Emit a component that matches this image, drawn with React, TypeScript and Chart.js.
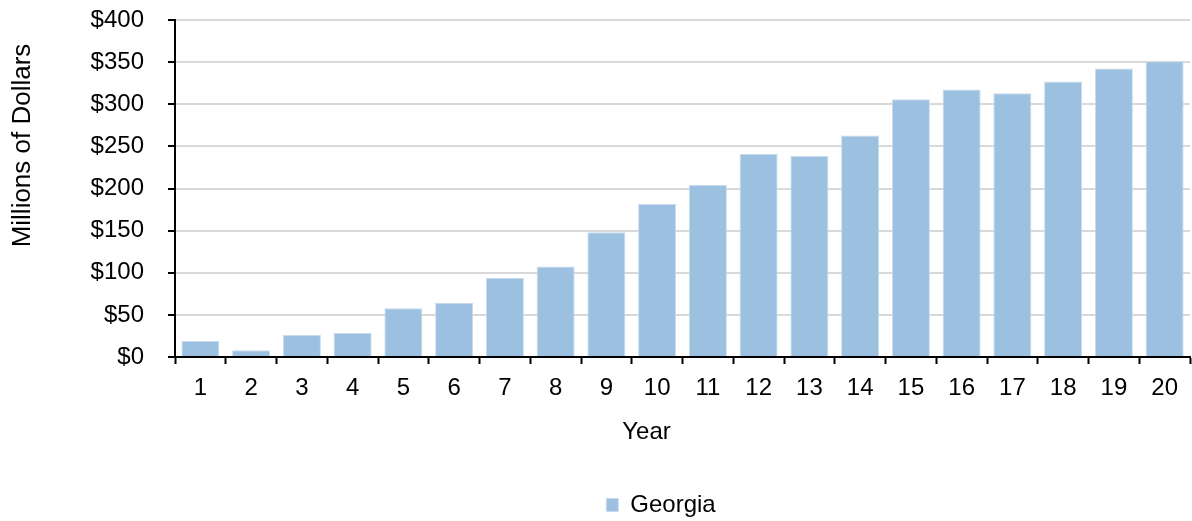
import React, { useEffect, useRef } from "react";
import { Chart, registerables } from "chart.js";

Chart.register(...registerables);

const years: string[] = ["1","2","3","4","5","6","7","8","9","10","11","12","13","14","15","16","17","18","19","20"];
const georgia: number[] = [19, 8, 26, 28.5, 58, 64.5, 94, 107.5, 148, 181.5, 204.5, 241, 238.5, 263, 306, 317.5, 313, 327, 342.5, 351];
const seriesName = "Georgia";
const yTitle = "Millions of Dollars";
const xTitle = "Year";

const FONT = "'Liberation Sans', Arial, Helvetica, sans-serif";
const FS = 24;

// Manual placement offsets of titles / legend (as in the source chart)
const X_TITLE_DX = -36;
const Y_TITLE_DY = -43;
const LEGEND_DX = 66;

const shiftPlugin = {
  id: "shiftTitles",
  afterLayout(chart: any) {
    const wrap = (obj: any, key: string, dx: number, dy: number) => {
      if (!obj || obj["__w_" + key]) return;
      const orig = obj[key];
      obj[key] = function (...args: any[]) {
        const c = chart.ctx;
        c.save();
        c.translate(dx, dy);
        const r = orig.apply(this, args);
        c.restore();
        return r;
      };
      obj["__w_" + key] = true;
    };
    wrap(chart.scales.x, "drawTitle", X_TITLE_DX, 0);
    wrap(chart.scales.y, "drawTitle", 0, Y_TITLE_DY);
    wrap(chart.legend, "draw", LEGEND_DX, 0);
  },
};

export default function App() {
  const ref = useRef<HTMLCanvasElement | null>(null);
  useEffect(() => {
    document.body.style.margin = "0";
    const canvas = ref.current!;
    const chart = new Chart(canvas, {
      type: "bar",
      data: {
        labels: years,
        datasets: [
          {
            label: seriesName,
            data: georgia,
            backgroundColor: "#9BC0E0",
            borderColor: "#C9DCEE",
            borderWidth: 1,
            barPercentage: 0.75,
            categoryPercentage: 1,
          },
        ],
      },
      plugins: [shiftPlugin],
      options: {
        responsive: false,
        animation: false,
        devicePixelRatio: 1,
        layout: { padding: { top: 20, right: 2, left: 0, bottom: -6 } },
        plugins: {
          tooltip: { enabled: false },
          legend: {
            position: "bottom",
            labels: {
              color: "#000",
              font: { family: FONT, size: FS },
              boxWidth: 12,
              boxHeight: 13,
              padding: 4,
            },
          },
        },
        scales: {
          x: {
            grid: {
              display: true,
              drawOnChartArea: false,
              drawTicks: true,
              tickLength: 7,
              tickColor: "#000",
              tickWidth: 2,
              offset: true,
            },
            border: { display: true, color: "#000", width: 2 },
            ticks: { color: "#000", font: { family: FONT, size: FS }, padding: 10, maxRotation: 0 },
            title: {
              display: true,
              text: xTitle,
              color: "#000",
              font: { family: FONT, size: FS },
              padding: { top: 14, bottom: 42 },
            },
            afterFit: (s: any) => { s.height = 132; },
          },
          y: {
            min: 0,
            max: 400,
            grid: {
              color: "#D9D9D9",
              lineWidth: 2,
              drawTicks: true,
              tickLength: 7,
              tickColor: "#000",
              tickWidth: 2,
            },
            border: { display: true, color: "#000", width: 2 },
            ticks: {
              stepSize: 50,
              color: "#000",
              font: { family: FONT, size: FS },
              padding: 24,
              callback: (v: any) => "$" + v,
            },
            title: {
              display: true,
              text: yTitle,
              color: "#000",
              font: { family: FONT, size: 26 },
              padding: { top: 7, bottom: 0 },
            },
            afterFit: (s: any) => {
              s.width = 175;
              s.paddingTop = 0;
              s.paddingBottom = 0;
            },
          },
        },
      },
    });
    return () => chart.destroy();
  }, []);
  return (
    <div style={{ width: 1192, height: 521 }}>
      <canvas ref={ref} width={1192} height={521} style={{ display: "block", width: 1192, height: 521 }} />
    </div>
  );
}
